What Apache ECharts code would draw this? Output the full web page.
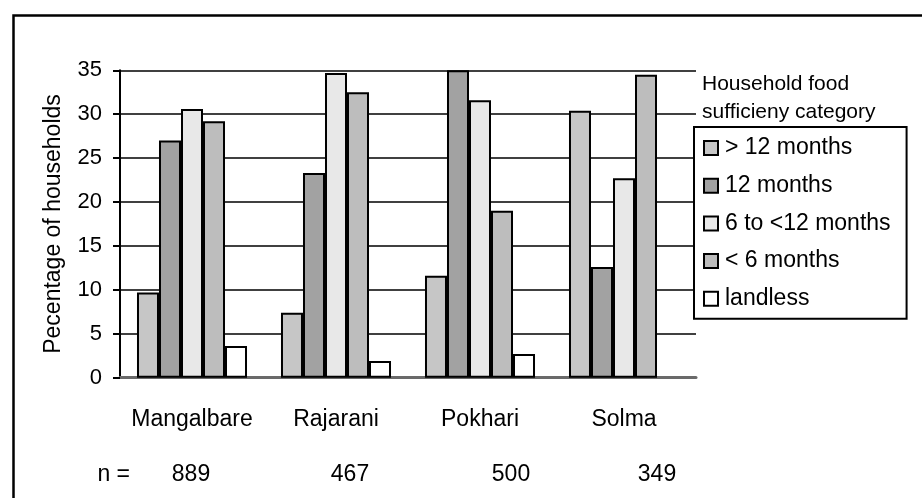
<!DOCTYPE html>
<html><head><meta charset="utf-8">
<script src="https://cdn.jsdelivr.net/npm/echarts@6/dist/echarts.min.js"></script>
<style>html,body{margin:0;padding:0;background:#fff}#c{width:922px;height:498px}</style>
</head><body><div id="c"></div>
<script>
const categories = ['Mangalbare', 'Rajarani', 'Pokhari', 'Solma'];
const nValues = ['889', '467', '500', '349'];
const seriesNames = ['> 12 months', '12 months', '6 to <12 months', '< 6 months', 'landless'];
const over12 = [9.7, 7.4, 11.6, 30.4];
const twelve = [27.0, 23.3, 35.0, 12.6];
const sixTo12 = [30.6, 34.7, 31.6, 22.7];
const under6 = [29.2, 32.5, 19.0, 34.5];
const landless = [3.6, 1.9, 2.7, '-'];
const yTicks = [0, 5, 10, 15, 20, 25, 30, 35];

const FONT = '"Liberation Sans", Arial, sans-serif';
const fills = ['#c6c6c6', '#a2a2a2', '#e8e8e8', '#bdbdbd', '#ffffff'];
const dataSets = [over12, twelve, sixTo12, under6, landless];
const nCenters = [191, 350, 511, 657];

const chart = echarts.init(document.getElementById('c'), null, {renderer: 'canvas'});

chart.setOption({
  animation: false,
  textStyle: {fontFamily: FONT},
  grid: {left: 120, right: 226, top: 70.3, bottom: 120.3},
  xAxis: {
    type: 'category', data: categories,
    axisLine: {lineStyle: {color: '#6a6a6a', width: 3}},
    axisTick: {show: false},
    axisLabel: {interval: 0, margin: 30, fontSize: 23, color: '#000', fontFamily: FONT}
  },
  yAxis: {
    type: 'value', min: yTicks[0], max: yTicks[yTicks.length - 1], interval: 5,
    name: 'Pecentage of households', nameLocation: 'middle', nameGap: 55, nameRotate: 90,
    nameTextStyle: {fontSize: 23, color: '#000', fontFamily: FONT},
    axisLine: {show: true, lineStyle: {color: '#000', width: 2}},
    axisTick: {show: true, length: 7, lineStyle: {color: '#000', width: 2}},
    axisLabel: {fontSize: 22, color: '#000', margin: 18, fontFamily: FONT},
    splitLine: {lineStyle: {color: '#404040', width: 2}}
  },
  legend: {
    orient: 'vertical', left: 694, top: 127, icon: 'rect',
    itemWidth: 14, itemHeight: 14, itemGap: 13.7,
    padding: [9, 16, 8, 9],
    borderColor: '#000', borderWidth: 2, backgroundColor: '#fff',
    textStyle: {fontSize: 23, lineHeight: 24, color: '#000', fontFamily: FONT, padding: [0, 0, 0, 2]},
    data: seriesNames
  },
  series: seriesNames.map((n, i) => ({
    name: n, type: 'bar', data: dataSets[i],
    barGap: '0%', barCategoryGap: '23.6%',
    itemStyle: {color: fills[i], borderColor: '#000', borderWidth: 2}
  })),
  graphic: [
    {type: 'rect', left: 11, top: 13, shape: {width: 940, height: 520}, style: {fill: 'none', stroke: '#000', lineWidth: 2.5}, silent: true},
    {type: 'text', left: 702, top: 70, style: {text: 'Household food\nsufficieny category', fontSize: 21, lineHeight: 28, fill: '#000', fontFamily: FONT}},
    {type: 'text', style: {x: 130, y: 475, text: 'n =', align: 'right', verticalAlign: 'middle', fontSize: 23, fill: '#000', fontFamily: FONT}}
  ].concat(nValues.map((v, i) => ({
    type: 'text',
    style: {x: nCenters[i], y: 475, text: v, align: 'center', verticalAlign: 'middle', fontSize: 23, fill: '#000', fontFamily: FONT}
  })))
});
</script>
</body></html>
